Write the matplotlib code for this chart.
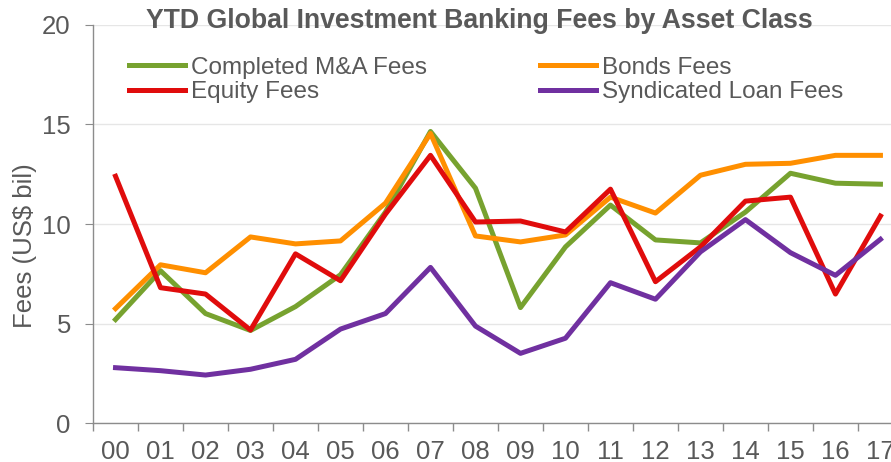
import numpy as np
import matplotlib.pyplot as plt

plt.rcParams['font.family'] = ['Liberation Sans', 'DejaVu Sans']

years = ['00', '01', '02', '03', '04', '05', '06', '07', '08', '09',
         '10', '11', '12', '13', '14', '15', '16', '17']

ma_fees = [5.2, 7.65, 5.5, 4.65, 5.85, 7.45, 10.6, 14.65, 11.8, 5.8,
           8.85, 10.95, 9.2, 9.05, 10.6, 12.55, 12.05, 12.0]
bonds_fees = [5.75, 7.95, 7.55, 9.35, 9.0, 9.15, 11.05, 14.55, 9.4, 9.1,
              9.45, 11.35, 10.55, 12.45, 13.0, 13.05, 13.45, 13.45]
equity_fees = [12.4, 6.8, 6.48, 4.67, 8.5, 7.15, 10.5, 13.45, 10.1, 10.15,
               9.6, 11.75, 7.1, 8.85, 11.15, 11.35, 6.48, 10.4]
loan_fees = [2.78, 2.63, 2.41, 2.7, 3.2, 4.72, 5.5, 7.82, 4.87, 3.5,
             4.26, 7.05, 6.22, 8.6, 10.22, 8.56, 7.42, 9.23]

grey = '#595959'
fig = plt.figure(figsize=(8.91, 4.62), dpi=100)
ax = fig.add_axes([0.1044, 0.0844, 0.909, 0.8615])

x = np.arange(len(years))
lw = 3.6
l1, = ax.plot(x, ma_fees, color='#77A22F', lw=lw, label='Completed M&A Fees')
l2, = ax.plot(x, bonds_fees, color='#FF8F00', lw=lw, label='Bonds Fees')
l3, = ax.plot(x, equity_fees, color='#E00C0C', lw=lw, label='Equity Fees')
l4, = ax.plot(x, loan_fees, color='#7030A0', lw=lw, label='Syndicated Loan Fees')

ax.set_xlim(-0.5, len(years) - 0.5)
ax.set_ylim(0, 20)
ax.set_yticks([0, 5, 10, 15, 20])
ax.set_xticks(x)
ax.set_xticklabels(years)
ax.set_xticks(np.arange(-0.5, len(years)), minor=True)
ax.tick_params(axis='x', which='major', length=0, pad=12, labelsize=18.5, labelcolor=grey)
ax.tick_params(axis='x', which='minor', length=6, color='#8C8C8C', width=1)
ax.tick_params(axis='y', length=6, color='#8C8C8C', labelsize=18.5, labelcolor=grey, pad=10)
ax.grid(axis='y', color='#E6E6E6', lw=1)
ax.set_axisbelow(True)
for s in ['top', 'right']:
    ax.spines[s].set_visible(False)
for s in ['left', 'bottom']:
    ax.spines[s].set_color('#8C8C8C')
    ax.spines[s].set_linewidth(1)

ax.set_ylabel('Fees (US$ bil)', fontsize=18.5, color=grey)
ax.yaxis.set_label_coords(-0.069, 0.446)

fig.text(0.538, 0.955, 'YTD Global Investment Banking Fees by Asset Class',
         ha='center', va='center', fontsize=19.2, fontweight='bold', color=grey)

leg = ax.legend(handles=[l1, l3, l2, l4], ncol=2, loc='upper left',
                bbox_to_anchor=(0.045, 0.92), frameon=False, fontsize=17.5,
                handlelength=2.3, handletextpad=0.25, columnspacing=4.65,
                labelspacing=0.1, borderaxespad=0, borderpad=0)
for t in leg.get_texts():
    t.set_color(grey)

fig.savefig('out.png', dpi=100)
